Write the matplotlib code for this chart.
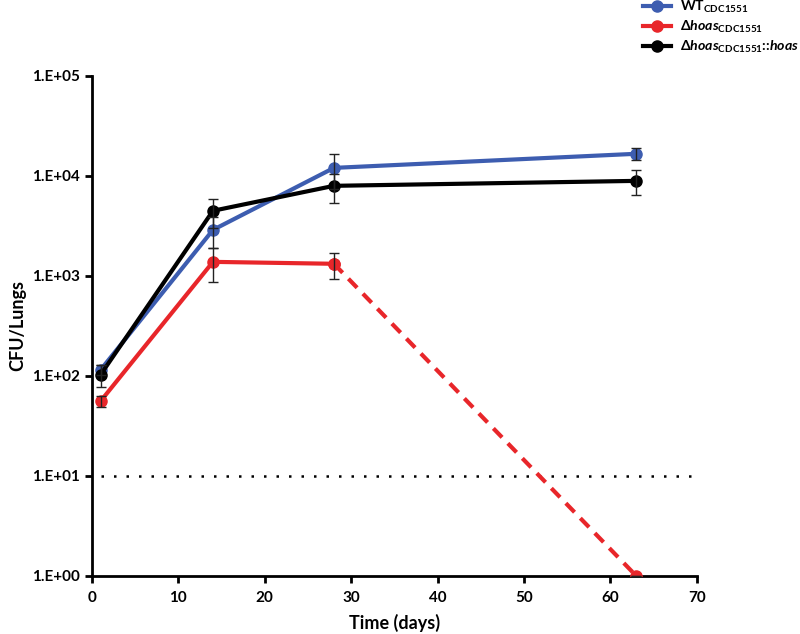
import numpy as np
import matplotlib.pyplot as plt
from matplotlib.lines import Line2D

# ── Datos ─────────────────────────────────────────────────────────────────────
dias = [1, 14, 28, 63]

wt_cfu = [115, 2880, 12000, 16600]
wt_err = [14, 1000, 4600, 2300]

hoas_cfu = [56, 1380, 1320, 1]
hoas_err = [7, 510, 380, 0]

comp_cfu = [103, 4470, 7940, 8900]
comp_err = [25, 1430, 2570, 2500]

limite_deteccion = 10

yticks = [1, 10, 100, 1000, 10000, 100000]
ytick_labels = ["1.E+00", "1.E+01", "1.E+02", "1.E+03", "1.E+04", "1.E+05"]
xticks = [0, 10, 20, 30, 40, 50, 60, 70]

AZUL = "#3d5db0"
ROJO = "#e8262a"
NEGRO = "#000000"

plt.rcParams["font.family"] = ["Lato", "DejaVu Sans"]
plt.rcParams["font.weight"] = "bold"
plt.rcParams["mathtext.fontset"] = "custom"
plt.rcParams["mathtext.rm"] = "Lato:bold"
plt.rcParams["mathtext.it"] = "Lato:bold:italic"
plt.rcParams["mathtext.bf"] = "Lato:bold"

fig = plt.figure(figsize=(8, 6.34), dpi=100)
ax = fig.add_axes([0.115, 0.0915, 0.756, 0.789])

lw = 3
ms = 8

# WT
ax.plot(dias, wt_cfu, color=AZUL, lw=lw, marker="o", ms=ms, zorder=3)
# Complementado
ax.plot(dias, comp_cfu, color=NEGRO, lw=lw, marker="o", ms=ms, zorder=3)
# Mutante: sólido hasta día 28, discontinuo hasta el límite
ax.plot(dias[:3], hoas_cfu[:3], color=ROJO, lw=lw, marker="o", ms=ms, zorder=3)
ax.plot(dias[2:], hoas_cfu[2:], color=ROJO, lw=lw, ls=(0, (3, 2)), marker="o",
        ms=ms, zorder=3)

for vals, errs in [(wt_cfu, wt_err), (hoas_cfu, hoas_err), (comp_cfu, comp_err)]:
    ax.errorbar(dias, vals, yerr=errs, fmt="none", ecolor="#222222",
                elinewidth=1, capsize=3.5, capthick=1, zorder=4)

ax.plot([1, 70], [limite_deteccion, limite_deteccion], color="black", lw=1.8,
        ls=(0, (1, 4)), zorder=2)

ax.set_yscale("log")
ax.set_ylim(1, 100000)
ax.set_xlim(0, 70)
ax.set_yticks(yticks)
ax.set_yticklabels(ytick_labels)
ax.yaxis.set_minor_locator(plt.NullLocator())
ax.set_xticks(xticks)

for s in ["top", "right"]:
    ax.spines[s].set_visible(False)
for s in ["left", "bottom"]:
    ax.spines[s].set_linewidth(2)
ax.tick_params(axis="both", direction="out", width=2, length=5, labelsize=11)
ax.tick_params(axis="x", pad=6)

ax.set_xlabel("Time (days)", fontsize=13, fontweight="bold", labelpad=6)
ax.set_ylabel("CFU/Lungs", fontsize=13, fontweight="bold", labelpad=4)

handles = [
    Line2D([], [], color=AZUL, lw=lw, marker="o", ms=ms),
    Line2D([], [], color=ROJO, lw=lw, marker="o", ms=ms),
    Line2D([], [], color=NEGRO, lw=lw, marker="o", ms=ms),
]
labels = [
    r"WT$_{\mathrm{CDC1551}}$",
    r"$\Delta\mathit{hoas}_{\mathrm{CDC1551}}$",
    r"$\Delta\mathit{hoas}_{\mathrm{CDC1551}}$::$\mathit{hoas}$",
]
fig.legend(handles, labels, loc="upper left", bbox_to_anchor=(0.788, 1.022),
           frameon=False, fontsize=10.2, handlelength=2.0, labelspacing=0.28,
           handletextpad=0.6)

fig.savefig("out.png", dpi=100)
